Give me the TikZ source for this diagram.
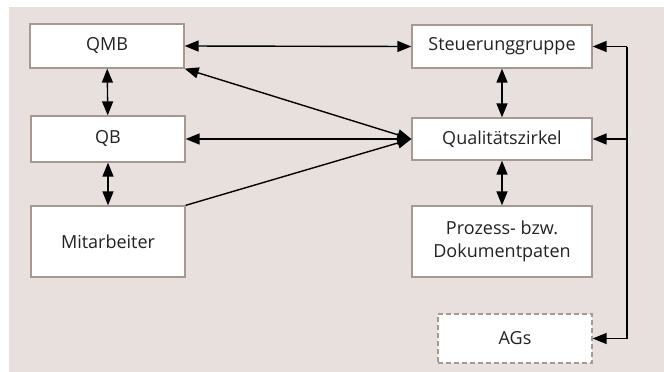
\documentclass[tikz,border=0pt]{standalone}
\usepackage{fontspec}
\setmainfont{Open Sans}
\usetikzlibrary{arrows.meta, positioning, calc}
\definecolor{panelbg}{RGB}{231, 224, 221}
\definecolor{boxline}{RGB}{168, 152, 144}
\definecolor{textgray}{RGB}{34, 34, 34}

\begin{document}
\begin{tikzpicture}[x=1pt, y=-1pt,
  box/.style={draw=boxline, line width=1.3pt, fill=white, text=textgray,
    font=\fontsize{18}{23}\selectfont, align=center, inner sep=0pt},
  dashbox/.style={box, dashed, dash pattern=on 5pt off 3pt},
  arr/.style={-{Triangle[length=14pt, width=11pt]}, line width=1.4pt},
  darr/.style={{Triangle[length=14pt, width=11pt]}-{Triangle[length=14pt, width=11pt]}, line width=1.4pt}]
% frame
\useasboundingbox (0,0) rectangle (664,372);
\fill[panelbg] (9,7) rectangle (664,372);

% left column
\node[box, minimum width=154pt, minimum height=44pt] (qmb) at (107,46) {QMB};
\node[box, minimum width=154pt, minimum height=46pt] (qb) at (108,139) {QB};
\node[box, minimum width=154pt, minimum height=71pt] (mit) at (108,241.5) {Mitarbeiter};

% right column
\node[box, minimum width=180pt, minimum height=43pt] (steu) at (502,46.5) {Steuerunggruppe};
\node[box, minimum width=180pt, minimum height=42pt] (qz) at (502,139) {Qualitätszirkel};
\node[box, minimum width=180pt, minimum height=71pt] (paten) at (502,241.5) {Prozess- bzw.\\Dokumentpaten};
\node[dashbox, minimum width=154pt, minimum height=49pt] (ags) at (515,338.5) {AGs};

% vertical links
\draw[darr] (qmb) -- (qb);
\draw[darr] (qb) -- (mit);
\draw[darr] (steu) -- (qz);
\draw[darr] (qz) -- (paten);

% links between the columns
\draw[darr] (qmb.east) -- (steu.west);
\draw[darr] (qb.east) -- (qz.west);
\draw[darr] (qmb.south east) -- (qz.west);
\draw[arr] (mit.north east) -- (qz.west);

% bus on the right
\coordinate (bustop) at (627,46.5);
\coordinate (busbot) at (627,338.5);
\draw[line width=1.4pt] (bustop) -- (busbot);
\draw[arr] (bustop) -- (steu.east);
\draw[arr] (bustop |- qz.east) -- (qz.east);
\draw[arr] (busbot) -- (ags.east);
\end{tikzpicture}
\end{document}
